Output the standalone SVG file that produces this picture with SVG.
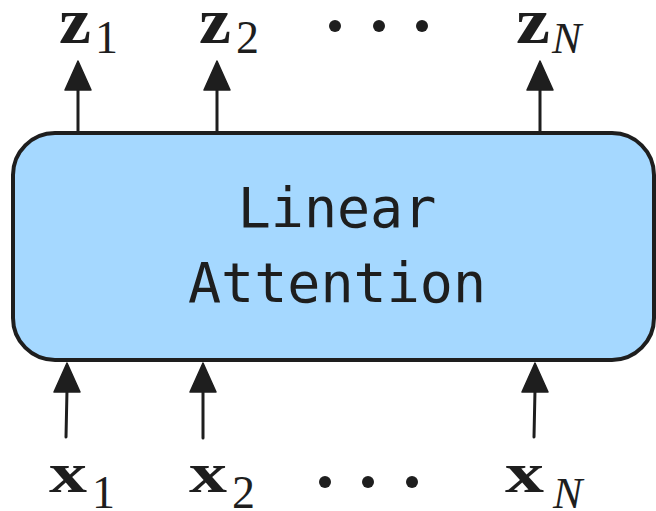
<svg xmlns="http://www.w3.org/2000/svg" width="656" height="511" viewBox="0 0 656 511">
<style>
.b{font-family:"Liberation Serif",serif;font-weight:bold;fill:#1e1e1e}
.s{font-family:"Liberation Serif",serif;fill:#1e1e1e}
.i{font-family:"Liberation Serif",serif;font-style:italic;fill:#1e1e1e}
.t{font-family:"DejaVu Sans Mono",monospace;font-size:55px;fill:#1e1e1e;text-anchor:middle}
.sh{stroke:#1e1e1e;stroke-width:3;fill:none;stroke-linecap:round}
.hd{fill:#1e1e1e;stroke:#1e1e1e;stroke-width:1.5;stroke-linejoin:round}
.d{fill:#1e1e1e}
</style>
<rect width="656" height="511" fill="#ffffff"/>
<g id="connectors">
<line class="sh" x1="78" y1="133" x2="78" y2="88"/>
<polygon class="hd" points="78,61 65,90 91,90"/>
<line class="sh" x1="217" y1="133" x2="217" y2="88"/>
<polygon class="hd" points="217,61 204,90 230,90"/>
<line class="sh" x1="540" y1="133" x2="540" y2="88"/>
<polygon class="hd" points="540,61 527,90 553,90"/>
<line class="sh" x1="66" y1="437" x2="67" y2="390"/>
<polygon class="hd" points="67,363 54,392 80,392"/>
<line class="sh" x1="203" y1="438" x2="203" y2="390"/>
<polygon class="hd" points="203,363 190,392 216,392"/>
<line class="sh" x1="534" y1="437" x2="535" y2="390"/>
<polygon class="hd" points="535,363 522,392 548,392"/>
</g>
<g id="linear-attention">
<rect x="13" y="133" width="641" height="227" rx="42" ry="42" fill="#a5d8ff" stroke="#1e1e1e" stroke-width="4"/>
<text class="t" x="337" y="227">Linear</text>
<text class="t" x="337" y="302">Attention</text>
</g>
<g id="z1"><text class="b" x="59" y="43" font-size="65" textLength="32" lengthAdjust="spacingAndGlyphs">z</text><text class="s" x="95" y="53" font-size="46">1</text></g>
<g id="z2"><text class="b" x="199" y="43" font-size="65" textLength="32" lengthAdjust="spacingAndGlyphs">z</text><text class="s" x="236" y="53" font-size="46">2</text></g>
<g id="zdots"><circle class="d" cx="335" cy="26" r="6"/><circle class="d" cx="379" cy="26" r="6"/><circle class="d" cx="422" cy="26" r="6"/></g>
<g id="zN"><text class="b" x="516" y="43" font-size="65" textLength="34" lengthAdjust="spacingAndGlyphs">z</text><text class="i" x="552" y="53" font-size="44">N</text></g>
<g id="x1"><text class="b" x="49" y="492" font-size="56" textLength="38" lengthAdjust="spacingAndGlyphs">x</text><text class="s" x="92" y="508" font-size="46">1</text></g>
<g id="x2"><text class="b" x="189" y="492" font-size="56" textLength="38" lengthAdjust="spacingAndGlyphs">x</text><text class="s" x="232" y="508" font-size="46">2</text></g>
<g id="xdots"><circle class="d" cx="325" cy="482" r="6"/><circle class="d" cx="368" cy="482" r="6"/><circle class="d" cx="412" cy="482" r="6"/></g>
<g id="xN"><text class="b" x="505" y="492" font-size="56" textLength="39" lengthAdjust="spacingAndGlyphs">x</text><text class="i" x="553" y="508" font-size="44">N</text></g>
</svg>
